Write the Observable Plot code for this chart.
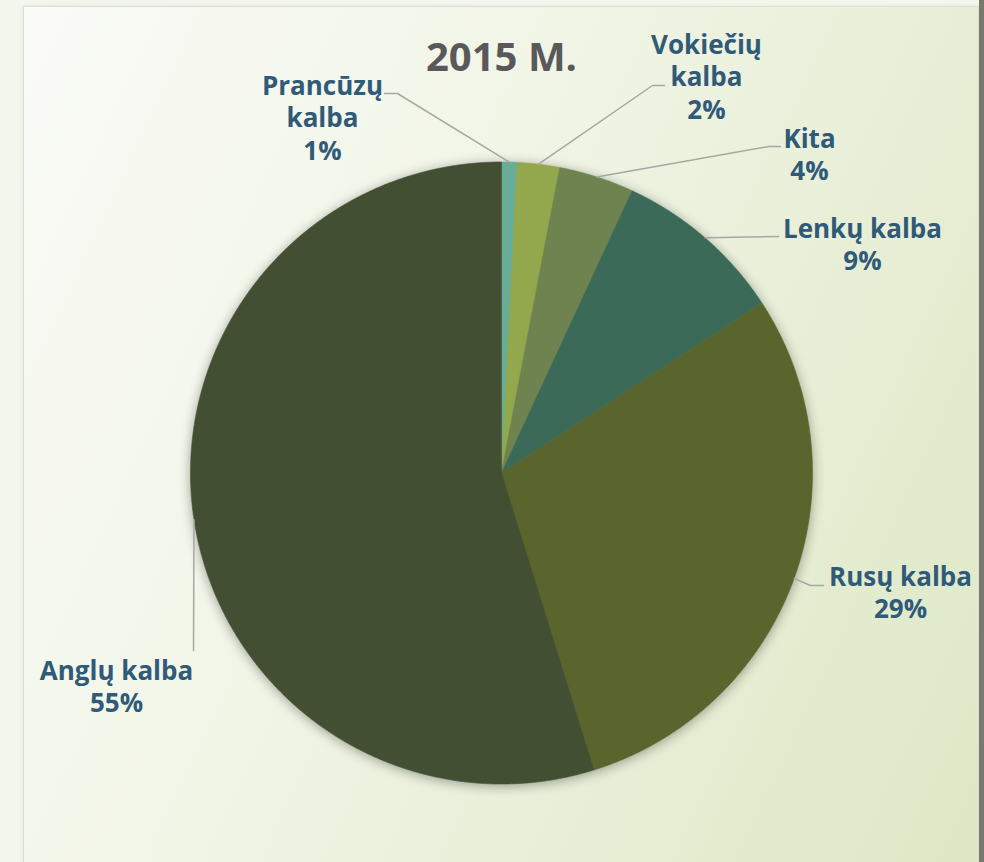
<!DOCTYPE html>
<html><head><meta charset="utf-8">
<script src="https://cdn.jsdelivr.net/npm/d3@7"></script>
<script src="https://cdn.jsdelivr.net/npm/@observablehq/plot@0.6"></script>
<style>
html,body{margin:0;padding:0;background:#f3f6ec;}
#wrap{position:relative;width:984px;height:862px;overflow:hidden;}
#panel{position:absolute;left:23px;top:6px;width:954px;height:900px;border:1px solid #dcdfd5;
  background:linear-gradient(115deg,#fafbf7 0%,#f1f5e6 40%,#dde7c4 100%);box-shadow:0 0 3px rgba(0,0,0,0.08);}
#edge{position:absolute;left:979px;top:0;width:5px;height:862px;background:#76796b;}
#chart{position:absolute;left:0;top:0;}
</style></head><body>
<div id="wrap"><div id="panel"></div><div id="edge"></div><div id="chart"></div></div>
<script>
// ---- data ----
const languages = ["Prancūzų kalba", "Vokiečių kalba", "Kita", "Lenkų kalba", "Rusų kalba", "Anglų kalba"];
const shares = [0.8, 2.2, 3.9, 8.9, 29.4, 54.8];
const labelText = [["Prancūzų", "kalba"], ["Vokiečių", "kalba"], ["Kita"], ["Lenkų kalba"], ["Rusų kalba"], ["Anglų kalba"]];
const sliceColors = ["#67ad98", "#93a84c", "#6f8350", "#3b6b58", "#5a652e", "#434f32"];
const chartTitle = "2015 M.";

// ---- layout (pixel geometry, not data) ----
const cx = 501, cy = 472.5, R = 311;
const lineGap = 32.5;
const labelLayout = [
  {x: 322, y: 94,  elbow: [397, 93], end: [384, 93]},
  {x: 706, y: 53,  elbow: [652, 85], end: [664, 85]},
  {x: 809, y: 147, elbow: [768, 146], end: [780, 146]},
  {x: 862, y: 237, elbow: null,      end: [778, 236]},
  {x: 900, y: 585, elbow: [810, 585], end: [823, 585]},
  {x: 116, y: 679, elbow: null,      end: [193, 650]}
];

const data = languages.map((name, i) => ({name, value: shares[i], i}));
const arcs = d3.pie().sort(null).value(d => d.value).startAngle(0).endAngle(2 * Math.PI)(data);

const pt = (a, r) => ({x: cx + r * Math.sin(a), y: cy - r * Math.cos(a)});

const slicePts = [];
for (const a of arcs) {
  const name = a.data.name;
  slicePts.push({name, ...pt(0, 0)});
  const n = Math.max(2, Math.ceil((a.endAngle - a.startAngle) / (Math.PI / 720)));
  for (let k = 0; k <= n; ++k) {
    const ang = a.startAngle + (a.endAngle - a.startAngle) * k / n;
    slicePts.push({name, ...pt(ang, R)});
  }
  slicePts.push({name, ...pt(0, 0)});
}

const leaderPts = [];
arcs.forEach((a, i) => {
  const name = a.data.name;
  const mid = (a.startAngle + a.endAngle) / 2;
  const L = labelLayout[i];
  leaderPts.push({name, ...pt(mid, R)});
  if (L.elbow) leaderPts.push({name, x: L.elbow[0], y: L.elbow[1]});
  leaderPts.push({name, x: L.end[0], y: L.end[1]});
});

const textRows = [];
arcs.forEach((a, i) => {
  const L = labelLayout[i];
  const lines = [...labelText[i], Math.round(a.data.value) + "%"];
  lines.forEach((t, k) => textRows.push({text: t, x: L.x, y: L.y + k * lineGap}));
});

const plot = Plot.plot({
  width: 984, height: 862, margin: 0,
  x: {domain: [0, 984], range: [0, 984], axis: null},
  y: {domain: [0, 862], range: [0, 862], axis: null},
  color: {domain: languages, range: sliceColors},
  style: {background: "transparent", overflow: "visible"},
  marks: [
    Plot.line(slicePts, {x: "x", y: "y", z: "name", fill: "name", stroke: "name", strokeWidth: 0.6}),
    Plot.line(leaderPts, {x: "x", y: "y", z: "name", stroke: "#a6a8a4", strokeWidth: 1.5}),
    Plot.text(textRows, {x: "x", y: "y", text: "text", lineAnchor: "bottom", fill: "#2f5a78",
      fontSize: 26, fontWeight: "bold", fontFamily: "Open Sans"}),
    Plot.text([chartTitle], {x: () => cx, y: () => 70, text: d => d, lineAnchor: "bottom", fill: "#595959",
      fontSize: 40, fontWeight: "bold", fontFamily: "Open Sans"})
  ]
});
const firstLine = plot.querySelector('g[aria-label="line"]');
if (firstLine) firstLine.style.filter = "drop-shadow(0px 2px 6px rgba(0,0,0,0.35))";
document.getElementById("chart").appendChild(plot);
</script>
</body></html>
